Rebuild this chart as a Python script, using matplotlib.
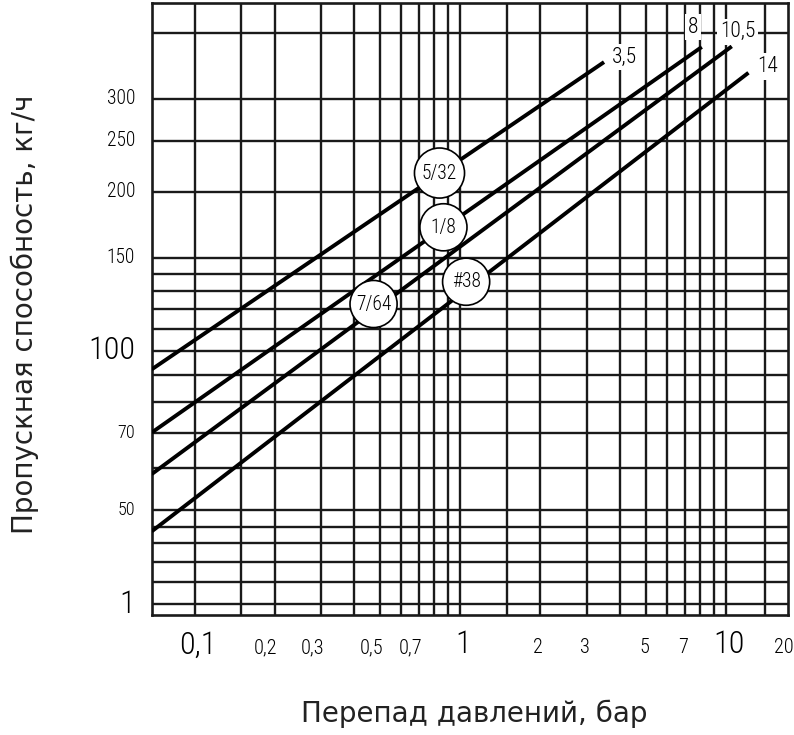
import numpy as np
import matplotlib
matplotlib.use('Agg')
import matplotlib.pyplot as plt
from matplotlib import font_manager
from matplotlib.ticker import FixedLocator, NullLocator, NullFormatter
from matplotlib.transforms import blended_transform_factory, ScaledTranslation

# перепад давлений (бар) и пропускная способность (кг/ч) на концах каждой линии
dp_start = [0.069, 0.069, 0.069, 0.069]
dp_end = [3.48, 8.12, 10.53, 12.17]
flow_start = [92.2, 70.0, 58.4, 45.5]
flow_end = [352, 376, 377, 336]
end_labels = ['3,5', '8', '10,5', '14']

# кружки с размерами сопел
nozzles = ['5/32', '1/8', '7/64', '#38']
nozzle_dp = [0.836, 0.865, 0.472, 1.053]
nozzle_flow = [217, 171.3, 122.6, 135.1]

# линии сетки
grid_x = [0.1, 0.15, 0.2, 0.3, 0.4, 0.5, 0.6, 0.7, 0.8, 0.9,
          1, 1.5, 2, 3, 4, 5, 6, 7, 8, 9, 10, 14]
grid_y = [33.1, 36.5, 39.8, 43.3, 46.4, 50, 60, 70, 80, 90,
          100, 110, 120, 130, 140, 150, 200, 250, 300, 400]

x_ticks = [0.1, 0.2, 0.3, 0.5, 0.7, 1, 2, 3, 5, 7, 10, 20]
x_tick_labels = ['0,1', '0,2', '0,3', '0,5', '0,7', '1', '2', '3', '5', '7', '10', '20']
y_ticks = [33.1, 50, 70, 100, 150, 200, 250, 300]
y_tick_labels = ['1', '50', '70', '100', '150', '200', '250', '300']
big_labels = {'0,1', '1', '10', '100'}

# узкий шрифт, если есть; иначе DejaVu поменьше
names = {f.name for f in font_manager.fontManager.ttflist}
cond = [f for f in font_manager.fontManager.ttflist
        if f.name.startswith('DejaVu Sans') and 'Condensed' in f.fname
        and 'Bold' not in f.fname and 'Oblique' not in f.fname]
if 'Liberation Sans Narrow' in names:
    narrow = dict(family='Liberation Sans Narrow')
    k = 1.0
elif 'Roboto Condensed' in names:
    narrow = dict(family='Roboto Condensed', fontweight='light')
    k = 0.97
elif cond:
    narrow = dict(fontproperties=font_manager.FontProperties(fname=cond[0].fname))
    k = 0.9
else:
    narrow = dict(family='DejaVu Sans')
    k = 0.8

ink = '#1a1a1a'

fig = plt.figure(figsize=(7.94, 7.35), dpi=100)
ax = fig.add_axes([0.1911, 0.1633, 0.8018, 0.833])
ax.set_xscale('log')
ax.set_yscale('log')
ax.set_xlim(0.069, 17.2)
ax.set_ylim(31.6, 456)

ax.xaxis.set_major_locator(FixedLocator(grid_x))
ax.yaxis.set_major_locator(FixedLocator(grid_y))
for a in (ax.xaxis, ax.yaxis):
    a.set_minor_locator(NullLocator())
    a.set_major_formatter(NullFormatter())
    a.set_minor_formatter(NullFormatter())
ax.tick_params(which='both', length=0)
ax.grid(True, color=ink, lw=1.7)
for s in ax.spines.values():
    s.set_linewidth(1.9)
    s.set_color(ink)


def ntext(x, y, s, size, **kw):
    # текст узким шрифтом; размер задаётся отдельно, т.к. fontproperties его перекрывает
    t = ax.text(x, y, s, **narrow, **kw)
    t.set_fontsize(size * k)
    return t


# линии
for i in range(len(dp_end)):
    ax.plot([dp_start[i], dp_end[i]], [flow_start[i], flow_end[i]],
            color='black', lw=2.8, solid_capstyle='butt', zorder=3)

# подписи на концах линий
end_offsets = [(14.4, 3.6), (-6.5, 14.3), (4.2, 10.6), (13.8, 4.5)]
for i, lab in enumerate(end_labels):
    a = ax.annotate(lab, (dp_end[i], flow_end[i]), xytext=end_offsets[i],
                    textcoords='offset points', ha='center', va='center',
                    zorder=4, **narrow,
                    bbox=dict(boxstyle='square,pad=0.12', fc='white', ec='none'))
    a.set_fontsize(16 * k)

# кружки (5/32 чуть крупнее)
badge_s = [1300, 1150, 1150, 1150]
ax.scatter(nozzle_dp, nozzle_flow, s=badge_s, facecolor='white', edgecolor='black',
           linewidths=1.2, zorder=5)
for i, lab in enumerate(nozzles):
    ntext(nozzle_dp[i], nozzle_flow[i], lab, 14.5, ha='center', va='center', zorder=6)

# подписи делений (вручную, чтобы повторить оригинальное расположение)
tx = blended_transform_factory(ax.transData, ax.transAxes)
ty = blended_transform_factory(ax.transAxes, ax.transData)
xmax = ax.get_xlim()[1]
for v, lab in zip(x_ticks, x_tick_labels):
    if lab in big_labels:
        size, ha, dx = 24, 'center', 3
    elif v < 1:
        size, ha, dx = 15, 'right', 3
    else:
        size, ha, dx = 15, 'center', -2
    if v > xmax:
        v, ha, dx = xmax, 'right', 5
    off = ScaledTranslation(dx / 100, -38.5 / 100, fig.dpi_scale_trans)
    ntext(v, 0, lab, size, transform=tx + off, ha=ha, va='baseline', clip_on=False)

for v, lab in zip(y_ticks, y_tick_labels):
    size = 24 if lab in big_labels else 14.5
    if lab in ('50', '70'):
        size = 13.5
    off = ScaledTranslation(-16.7 / 100, 0, fig.dpi_scale_trans)
    ntext(0, v, lab, size, transform=ty + off, ha='right', va='center', clip_on=False)

fig.text(0.0416, 0.572, 'Пропускная способность, кг/ч', rotation=90,
         rotation_mode='anchor', ha='center', va='baseline', fontsize=20,
         color='#222222')
fig.text(0.597, 0.0181, 'Перепад давлений, бар', ha='center', va='baseline',
         fontsize=20, color='#222222')

fig.savefig('out.png', dpi=100)
